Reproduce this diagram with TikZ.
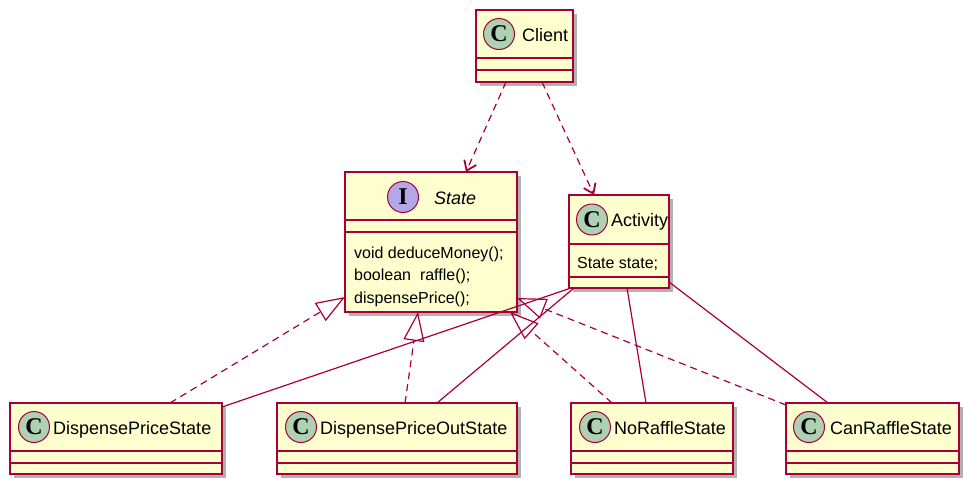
\documentclass[tikz,border=0pt]{standalone}
\usepackage{fontspec}
\setmainfont{Liberation Sans}
\newfontfamily\circfont{Liberation Serif}
\usetikzlibrary{arrows.meta,shadows,calc}
\definecolor{umlborder}{HTML}{A80036}
\definecolor{umlfill}{HTML}{FEFECE}
\definecolor{umlgreen}{HTML}{ADD1B2}
\definecolor{umlpurple}{HTML}{B4A7E5}
\begin{document}
\begin{tikzpicture}[x=1pt,y=-1pt,
  cls/.style={draw=umlborder, fill=umlfill, line width=1.5pt, rectangle, inner sep=0pt, outer sep=0pt, anchor=north west,
    drop shadow={shadow xshift=4pt, shadow yshift=-4pt, opacity=0.3, fill=black}},
  divider/.style={draw=umlborder, line width=1.5pt},
  circc/.style={circle, draw=umlborder, line width=1pt, fill=umlgreen, minimum size=31pt, inner sep=0pt,
    font=\circfont\bfseries\fontsize{24}{24}\selectfont},
  circi/.style={circc, fill=umlpurple},
  cname/.style={anchor=base west, inner sep=0pt, font=\fontsize{18}{22}\selectfont},
  member/.style={anchor=base west, inner sep=0pt, font=\fontsize{16}{19}\selectfont},
  conn/.style={draw=umlborder, line width=1.2pt},
  dep/.style={conn, dash pattern=on 7pt off 5pt, -{Straight Barb[length=9pt,width=13pt,line width=1.8pt]}},
  real/.style={conn, dash pattern=on 7pt off 5pt, -{Triangle[open,length=29pt,width=21pt]}},
  assoc/.style={conn}
]
\useasboundingbox (0,0) rectangle (978,493);

% classes
\node[cls, minimum width=97pt, minimum height=72pt] (client) at (476,10) {};
\node[cls, minimum width=172pt, minimum height=140pt] (state) at (345,172) {};
\node[cls, minimum width=100pt, minimum height=93pt] (activity) at (569,195) {};
\node[cls, minimum width=212pt, minimum height=71pt] (dps) at (10,403) {};
\node[cls, minimum width=240pt, minimum height=71pt] (dpos) at (277,403) {};
\node[cls, minimum width=162pt, minimum height=71pt] (nrs) at (571,403) {};
\node[cls, minimum width=173pt, minimum height=71pt] (crs) at (786,403) {};

% dividers
\foreach \n/\a/\b in {client/48/60, state/48/60, activity/49/82, dps/48/60, dpos/48/60, nrs/48/60, crs/48/60}{
  \draw[divider] ($(\n.north west)+(0,\a)$) -- ($(\n.north east)+(0,\a)$);
  \draw[divider] ($(\n.north west)+(0,\b)$) -- ($(\n.north east)+(0,\b)$);
}

% headers
\node[circc] (clientc) at (499,34) {C};
\node[cname] (clientn) at (522,41) {Client};
\node[circi] (statec) at (403,197) {I};
\node[cname, font=\fontsize{18}{22}\selectfont\itshape] (staten) at (434,204) {State};
\node[circc] (activityc) at (592,219.5) {C};
\node[cname] (activityn) at (611,226.5) {Activity};
\node[circc] (dpsc) at (34,427) {C};
\node[cname] (dpsn) at (53,434) {DispensePriceState};
\node[circc] (dposc) at (301,427) {C};
\node[cname] (dposn) at (320,434) {DispensePriceOutState};
\node[circc] (nrsc) at (595,427) {C};
\node[cname] (nrsn) at (614,434) {NoRaffleState};
\node[circc] (crsc) at (809,427) {C};
\node[cname] (crsn) at (830,434) {CanRaffleState};

% members
\node[member] (m1) at (354,258) {void deduceMoney();};
\node[member] (m2) at (354,280.5) {boolean\ \ raffle();};
\node[member] (m3) at (354,303) {dispensePrice();};
\node[member] (m4) at (577,268) {State state;};

% dependencies
\draw[dep] ($(client.south west)+(30,0)$) -- ($(state.north west)+(121,0)$);
\draw[dep] ($(client.south west)+(66,0)$) -- ($(activity.north west)+(25,0)$);

% realizations
\draw[real] ($(dps.north west)+(160,0)$) -- ($(state.north west)+(0,125)$);
\draw[real] ($(dpos.north west)+(128,0)$) -- ($(state.south west)+(73,0)$);
\draw[real] ($(nrs.north west)+(41,0)$) -- ($(state.south west)+(165,0)$);
\draw[real] ($(crs.north west)+(0,2)$) -- ($(state.north east)+(0,126)$);

% associations
\draw[assoc] ($(activity.south west)+(2,0)$) -- ($(dps.north east)+(0,4)$);
\draw[assoc] ($(activity.south west)+(5,0)$) -- ($(dpos.north west)+(160,0)$);
\draw[assoc] ($(activity.south west)+(58,0)$) -- ($(nrs.north west)+(75,0)$);
\draw[assoc] ($(activity.north east)+(0,87)$) -- ($(crs.north west)+(42,0)$);
\end{tikzpicture}
\end{document}
